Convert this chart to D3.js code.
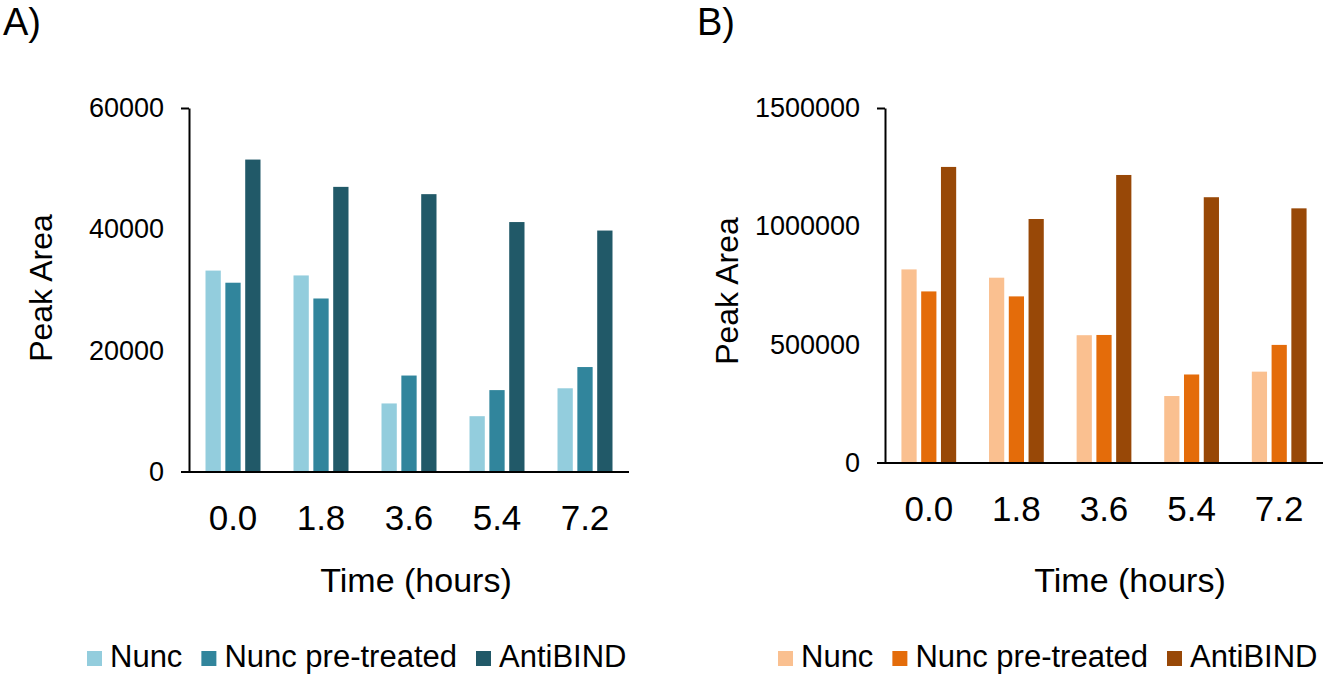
<!DOCTYPE html>
<html>
<head>
<meta charset="utf-8">
<script src="https://cdn.jsdelivr.net/npm/d3@7"></script>
<style>
  body { margin: 0; background: #fff; }
  text { font-family: "Liberation Sans", Arial, Helvetica, sans-serif; fill: #000; }
</style>
</head>
<body>
<div id="chart"></div>
<script>
// Data
const times = ["0.0", "1.8", "3.6", "5.4", "7.2"];
const seriesNames = ["Nunc", "Nunc pre-treated", "AntiBIND"];

const nuncA = [33200, 32400, 11300, 9200, 13800];
const pretreatedA = [31200, 28600, 15900, 13500, 17300];
const antibindA = [51500, 47000, 45800, 41200, 39800];
const ticksA = [0, 20000, 40000, 60000];

const nuncB = [818000, 783000, 540000, 283000, 386000];
const pretreatedB = [725000, 704000, 541000, 374000, 499000];
const antibindB = [1251000, 1031000, 1217000, 1123000, 1076000];
const ticksB = [0, 500000, 1000000, 1500000];

const colorsA = ["#93cddd", "#31859c", "#215968"];
const colorsB = ["#fac090", "#e46c0a", "#984807"];

const svg = d3.select("#chart")
  .append("svg")
  .attr("width", 1325)
  .attr("height", 678);

function drawPanel(opts) {
  const g = svg.append("g");
  const values = [opts.nunc, opts.pretreated, opts.antibind];

  // Scales
  const x0 = d3.scaleBand()
    .domain(times)
    .range([opts.left, opts.right])
    .paddingInner(0.375)
    .paddingOuter(0.1875);
  const x1 = d3.scaleBand()
    .domain(seriesNames)
    .range([0, x0.bandwidth()])
    .paddingInner(0.23);
  const y = d3.scaleLinear()
    .domain([0, opts.ticks[opts.ticks.length - 1]])
    .range([opts.bottom, opts.top]);

  // Bars
  seriesNames.forEach((name, si) => {
    g.selectAll(null)
      .data(times.map((t, i) => ({ t: t, v: values[si][i] })))
      .enter().append("rect")
      .attr("x", d => x0(d.t) + x1(name))
      .attr("width", x1.bandwidth())
      .attr("y", d => y(d.v))
      .attr("height", d => y(0) - y(d.v))
      .attr("fill", opts.colors[si]);
  });

  // Y axis (only the top tick mark is drawn, like the original)
  const yAxis = g.append("g")
    .attr("transform", `translate(${opts.left},0)`)
    .call(d3.axisLeft(y).tickValues(opts.ticks).tickFormat(d3.format("d"))
      .tickSize(8).tickPadding(17).tickSizeOuter(0));
  yAxis.select(".domain").attr("stroke", "#000").attr("stroke-width", 2);
  yAxis.selectAll(".tick line")
    .attr("stroke", "#000").attr("stroke-width", 2)
    .attr("opacity", d => d === opts.ticks[opts.ticks.length - 1] ? 1 : 0);
  yAxis.selectAll(".tick text")
    .attr("font-size", 27)
    .style("font-family", "'Liberation Sans', Arial, sans-serif")
    .attr("fill", "#000");

  // X axis
  const xAxis = g.append("g")
    .attr("transform", `translate(0,${opts.bottom})`)
    .call(d3.axisBottom(x0).tickSize(0).tickPadding(46).tickSizeOuter(0));
  xAxis.select(".domain").remove();
  xAxis.append("line")
    .attr("x1", opts.left - 8)
    .attr("x2", opts.right)
    .attr("stroke", "#000")
    .attr("stroke-width", 2);
  xAxis.selectAll(".tick text")
    .attr("font-size", 35)
    .attr("dy", "0.35em")
    .style("font-family", "'Liberation Sans', Arial, sans-serif")
    .attr("fill", "#000");

  // Axis titles
  g.append("text")
    .attr("x", opts.xTitleX)
    .attr("y", 592)
    .attr("text-anchor", "middle")
    .attr("font-size", 34)
    .text("Time (hours)");
  g.append("text")
    .attr("transform", `translate(${opts.yTitleX},${opts.yTitleY}) rotate(-90)`)
    .attr("text-anchor", "middle")
    .attr("font-size", 32)
    .text("Peak Area");

  // Panel label
  g.append("text")
    .attr("x", opts.labelX)
    .attr("y", 35)
    .attr("font-size", 38)
    .text(opts.label);

  // Legend
  let lx = opts.legendX;
  seriesNames.forEach((name, i) => {
    g.append("rect")
      .attr("x", lx)
      .attr("y", 651)
      .attr("width", 15)
      .attr("height", 15)
      .attr("fill", opts.colors[i]);
    const t = g.append("text")
      .attr("x", lx + 23)
      .attr("y", 667)
      .attr("font-size", 31)
      .text(name);
    lx += 23 + t.node().getComputedTextLength() + 19;
  });
}

drawPanel({
  label: "A)", labelX: 3,
  left: 189, right: 629, top: 108, bottom: 472,
  nunc: nuncA, pretreated: pretreatedA, antibind: antibindA,
  ticks: ticksA, colors: colorsA,
  xTitleX: 416, yTitleX: 52, yTitleY: 288, legendX: 87
});

drawPanel({
  label: "B)", labelX: 697,
  left: 885, right: 1323, top: 108, bottom: 463,
  nunc: nuncB, pretreated: pretreatedB, antibind: antibindB,
  ticks: ticksB, colors: colorsB,
  xTitleX: 1130, yTitleX: 738, yTitleY: 291, legendX: 778
});
</script>
</body>
</html>
